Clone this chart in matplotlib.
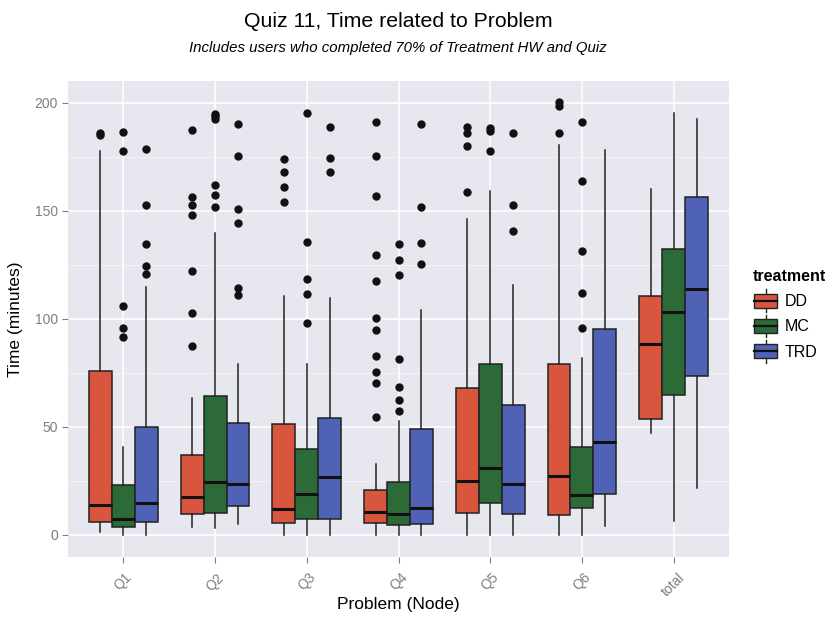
import matplotlib
matplotlib.use("Agg")
import matplotlib.pyplot as plt
from matplotlib.legend_handler import HandlerBase
from matplotlib.patches import Rectangle
from matplotlib.lines import Line2D

plt.rcParams['font.family'] = ['Liberation Sans', 'DejaVu Sans']

# ---- data: five-number summaries per problem and treatment ----
problems = ["Q1", "Q2", "Q3", "Q4", "Q5", "Q6", "total"]
treatments = ["DD", "MC", "TRD"]
colors = {"DD": "#D8553E", "MC": "#2C6B38", "TRD": "#5062B6"}

# each list is ordered by problem (Q1..Q6, total)
dd_whislo = [1.5, 3.9, 0, 0, 0, 0, 47.0]
dd_q1 = [6.2, 9.6, 5.4, 5.7, 10.3, 9.2, 53.6]
dd_med = [13.9, 17.6, 11.9, 10.5, 25.0, 27.3, 88.3]
dd_q3 = [76.0, 37.0, 51.3, 20.6, 67.8, 79.3, 110.5]
dd_whishi = [177.7, 63.2, 110.5, 32.7, 146.3, 180.6, 160.1]
dd_fliers = [
    [185.7, 185.0],
    [187.5, 156.4, 152.4, 147.8, 122.2, 102.5, 87.4],
    [174.1, 167.7, 161.1, 154.0],
    [191.1, 175.2, 156.9, 129.3, 117.4, 100.5, 94.8, 82.8, 75.2, 70.4, 54.4],
    [188.5, 185.7, 179.8, 158.7],
    [200.2, 198.6, 185.7],
    [],
]

mc_whislo = [0, 3.1, 0, 0, 0, 0, 6.6]
mc_q1 = [3.9, 10.3, 7.2, 4.6, 14.6, 12.3, 64.9]
mc_med = [7.5, 24.7, 18.8, 9.6, 30.8, 18.5, 102.9]
mc_q3 = [23.1, 64.1, 39.6, 24.7, 79.1, 40.5, 132.1]
mc_whishi = [40.8, 139.5, 78.9, 52.9, 159.0, 81.7, 195.4]
mc_fliers = [
    [186.5, 177.7, 105.9, 95.5, 91.7],
    [194.9, 193.7, 192.2, 161.8, 157.2, 151.5],
    [195.3, 135.3, 118.4, 111.3, 98.0],
    [134.8, 127.1, 120.4, 81.4, 68.3, 62.4, 57.3],
    [188.4, 186.9, 177.7],
    [190.8, 163.8, 131.3, 112.0, 95.5],
    [],
]

trd_whislo = [0, 4.9, 0, 0, 0, 4.2, 21.6]
trd_q1 = [6.2, 13.4, 7.2, 4.9, 9.7, 18.8, 73.5]
trd_med = [14.6, 23.4, 26.7, 12.3, 23.6, 42.8, 113.7]
trd_q3 = [50.1, 51.6, 53.9, 48.8, 59.9, 95.2, 156.3]
trd_whishi = [114.5, 78.9, 109.4, 104.0, 115.4, 178.0, 192.6]
trd_fliers = [
    [178.3, 152.4, 134.4, 124.5, 120.8],
    [189.9, 175.2, 151.0, 144.4, 114.3, 111.0],
    [188.8, 174.4, 167.7],
    [190.3, 151.9, 135.0, 125.3],
    [185.7, 152.6, 140.5],
    [],
    [],
]

y_ticks = [0, 50, 100, 150, 200]

summaries = {
    "DD": (dd_whislo, dd_q1, dd_med, dd_q3, dd_whishi, dd_fliers),
    "MC": (mc_whislo, mc_q1, mc_med, mc_q3, mc_whishi, mc_fliers),
    "TRD": (trd_whislo, trd_q1, trd_med, trd_q3, trd_whishi, trd_fliers),
}

# ---- figure ----
fig = plt.figure(figsize=(8.25, 6.18), dpi=100)
ax = fig.add_axes([0.0828, 0.0994, 0.8005, 0.7696])
ax.set_facecolor("#E7E7EF")

box_w = 0.25
offsets = {"DD": -0.25, "MC": 0.0, "TRD": 0.25}

for t in treatments:
    lo, q1, med, q3, hi, fl = summaries[t]
    stats = []
    for i in range(len(problems)):
        stats.append(dict(whislo=lo[i], q1=q1[i], med=med[i], q3=q3[i],
                          whishi=hi[i], fliers=fl[i]))
    pos = [i + 1 + offsets[t] for i in range(len(problems))]
    ax.bxp(stats, positions=pos, widths=box_w, patch_artist=True,
           showcaps=False,
           boxprops=dict(facecolor=colors[t], edgecolor="#222222", linewidth=1.1),
           medianprops=dict(color="#111111", linewidth=2.2),
           whiskerprops=dict(color="#222222", linewidth=1.1),
           flierprops=dict(marker="o", markerfacecolor="#111111",
                           markeredgecolor="#111111", markersize=5),
           zorder=3, manage_ticks=False)

ax.set_xlim(0.4, len(problems) + 0.6)
ax.set_ylim(-10, 210)

ax.set_yticks(y_ticks)
ax.set_yticks([25, 75, 125, 175], minor=True)
ax.set_xticks(range(1, len(problems) + 1))
ax.set_xticklabels(problems, rotation=45, ha="center", va="top",
                   color="#7F7F7F", fontsize=10)
ax.tick_params(axis="y", labelcolor="#7F7F7F", labelsize=10, color="#7F7F7F",
               length=4)
ax.tick_params(axis="x", color="#7F7F7F", length=4, pad=6)
ax.tick_params(axis="y", which="minor", length=0)

ax.grid(True, which="major", color="white", linewidth=1.2, zorder=0)
ax.grid(True, which="minor", axis="y", color="#F3F3F8", linewidth=0.6, zorder=0)
ax.set_axisbelow(True)
for s in ax.spines.values():
    s.set_visible(False)

ax.set_xlabel("Problem (Node)", fontsize=12.5)
ax.xaxis.set_label_coords(0.5, -0.086)
ax.set_ylabel("Time (minutes)", fontsize=12.5, labelpad=8)

fig.text(0.4825, 0.966, "Quiz 11, Time related to Problem", ha="center",
         va="center", fontsize=15.3)
fig.text(0.4825, 0.923, "Includes users who completed 70% of Treatment HW and Quiz",
         ha="center", va="center", fontsize=10.8, style="italic")


# ---- legend with boxplot glyph keys ----
class BoxKeyHandler(HandlerBase):
    def create_artists(self, legend, orig_handle, xdescent, ydescent,
                       width, height, fontsize, trans):
        fc = orig_handle.get_facecolor()
        bw = width * 0.9
        x0 = xdescent + (width - bw) / 2
        bh = height * 1.0
        y0 = -ydescent + (height - bh) / 2
        cx = x0 + bw / 2
        rect = Rectangle((x0, y0), bw, bh, facecolor=fc, edgecolor="#222222",
                         linewidth=1.0, transform=trans)
        med = Line2D([x0, x0 + bw], [y0 + bh / 2] * 2, color="#111111",
                     linewidth=1.6, transform=trans)
        w1 = Line2D([cx, cx], [y0 + bh, y0 + bh + height * 0.3],
                    color="#222222", linewidth=1.0, transform=trans)
        w2 = Line2D([cx, cx], [y0 - height * 0.3, y0], color="#222222",
                    linewidth=1.0, transform=trans)
        return [w1, w2, rect, med]


handles = [Rectangle((0, 0), 1, 1, facecolor=colors[t]) for t in treatments]
leg = fig.legend(handles, treatments, title="treatment",
                 handler_map={Rectangle: BoxKeyHandler()},
                 loc="upper left", bbox_to_anchor=(0.905, 0.575),
                 frameon=False, fontsize=11.5, title_fontsize=11.5,
                 handlelength=1.6, handleheight=1.0, handletextpad=0.4,
                 labelspacing=0.6, borderaxespad=0, alignment="left")
leg.get_title().set_fontweight("bold")

fig.savefig("out.png", dpi=100)
